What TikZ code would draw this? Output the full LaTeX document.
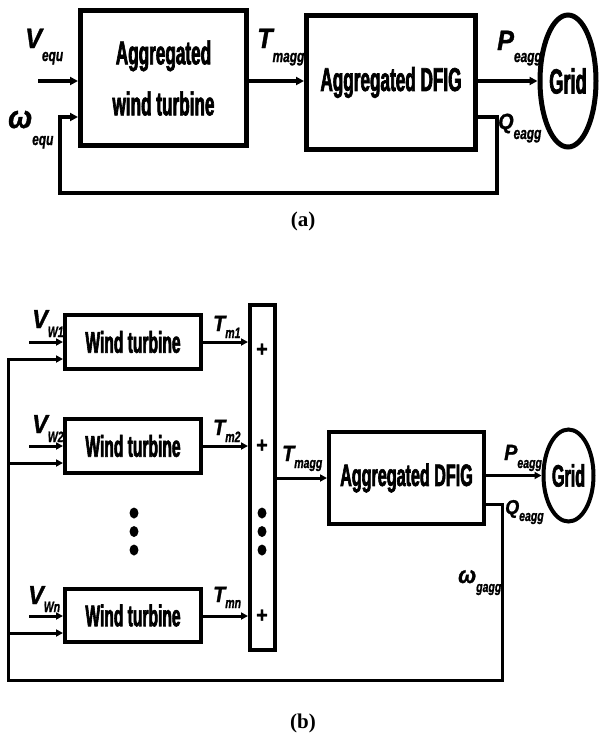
\documentclass[tikz,border=0pt]{standalone}
\usepackage{fontspec}
\usetikzlibrary{arrows.meta,shapes.geometric}
\newfontfamily\bxf[FakeStretch=0.52,FakeBold=2]{Liberation Sans}
\newfontfamily\lfm[FakeStretch=0.9,FakeBold=1.2]{Liberation Sans}
\newfontfamily\lfs[FakeStretch=0.7,FakeBold=1]{Liberation Sans}
\newfontfamily\capf{Liberation Serif}
\newcommand\fs[1]{\fontsize{#1}{#1}\selectfont}
\newcommand\sig[5]{{\lfm\bfseries\itshape\fs{#1}#2}\raisebox{-#4pt}{\lfs\bfseries\itshape\fs{#3}#5}}
\begin{document}
\begin{tikzpicture}[x=1pt,y=-1pt,
  blk/.style={draw, line width=5pt, inner sep=0pt},
  blkb/.style={draw, line width=4pt, inner sep=0pt},
  arr/.style={line width=3.6pt, -{Triangle[length=8pt,width=8pt]}},
  arrb/.style={line width=3pt, -{Triangle[length=7pt,width=7pt]}},
  lbl/.style={anchor=base west, inner sep=0pt},
  plus/.style={font=\lfm\bfseries\fs{22}, inner sep=0pt},
  capt/.style={font=\capf\bfseries\fs{21}, inner sep=0pt}]
\useasboundingbox (0,0) rectangle (599,740);
% ---------------- (a)
\node[blk, minimum width=166pt, minimum height=135pt, align=center,
  font=\bxf\bfseries\fontsize{33}{51}\selectfont] (awt) at (163.5,78) {Aggregated\\wind turbine};
\node[blk, minimum width=169pt, minimum height=134pt,
  font=\bxf\bfseries\fs{33}] (adfa) at (391,82.5) {Aggregated DFIG};
\node[blk, ellipse, minimum width=56pt, minimum height=132pt,
  font=\bxf\bfseries\fs{35}] (grida) at (568,81) {Grid};
\coordinate (va) at (38,81);
\coordinate (ta) at (250,81);
\coordinate (qa) at (497,117);
\coordinate (fa) at (60,193);
\draw[arr] (va) -- (va -| awt.west);
\draw[arr] (ta -| awt.east) -- (ta -| adfa.west);
\draw[arr] (adfa.east |- grida.west) -- (grida.west);
\draw[arr] (qa -| adfa.east) -- (qa) -- (qa |- fa) -- (fa) -- (fa |- qa) -- (qa -| awt.west);
\node[lbl] (lva) at (25,48) {\sig{28}{V}{17}{13}{equ}};
\node[lbl] (lwa) at (8,128) {\sig{32}{ω}{17}{17}{equ}};
\node[lbl] (lta) at (257,48) {\sig{28}{T}{17}{14}{magg}};
\node[lbl] (lpa) at (497,50) {\sig{28}{P}{17}{12}{eagg}};
\node[lbl] (lqa) at (498,129) {\sig{22}{Q}{17}{10}{eagg}};
\node[capt] (capa) at (303,221) {(a)};
% ---------------- (b)
\node[blkb, minimum width=136pt, minimum height=54pt, font=\bxf\bfseries\fs{30}] (wt1) at (133,342) {Wind turbine};
\node[blkb, minimum width=136pt, minimum height=54pt, font=\bxf\bfseries\fs{30}] (wt2) at (133,446) {Wind turbine};
\node[blkb, minimum width=136pt, minimum height=53.5pt, font=\bxf\bfseries\fs{30}] (wtn) at (133,615.5) {Wind turbine};
\node[blkb, minimum width=25pt, minimum height=345pt] (bar) at (262.5,477.5) {};
\node[plus] (p1) at (262,350) {+};
\node[plus] (p2) at (262,446) {+};
\node[plus] (pn) at (262,616) {+};
\foreach \yy in {513,531.5,550} {
  \fill (134,\yy) circle[x radius=4.5, y radius=5.5];
  \fill (262,\yy) circle[x radius=4.5, y radius=5.5];
}
\node[blkb, minimum width=155pt, minimum height=92pt, font=\bxf\bfseries\fs{31}] (adfb) at (406.5,478) {Aggregated DFIG};
\node[blkb, ellipse, minimum width=50pt, minimum height=92pt, font=\bxf\bfseries\fs{31}] (gridb) at (568.5,475.5) {Grid};
\coordinate (v1) at (29,342);
\coordinate (v2) at (29,446);
\coordinate (vn) at (29,616);
\coordinate (f1) at (8,359);
\coordinate (f2) at (8,463);
\coordinate (fn) at (8,633);
\coordinate (qb) at (502,504);
\coordinate (fb) at (8,680);
\draw[arrb] (v1) -- (v1 -| wt1.west);
\draw[arrb] (v2) -- (v2 -| wt2.west);
\draw[arrb] (vn) -- (vn -| wtn.west);
\draw[arrb] (wt1.east) -- (wt1.east -| bar.west);
\draw[arrb] (wt2.east) -- (wt2.east -| bar.west);
\draw[arrb] (wtn.east |- vn) -- (vn -| bar.west);
\draw[arrb] (bar.east |- adfb.west) -- (adfb.west);
\draw[arrb] (adfb.east |- gridb.west) -- (gridb.west);
\draw[arrb] (qb -| adfb.east) -- (qb) -- (qb |- fb) -- (fb) -- (f1) -- (f1 -| wt1.west);
\draw[arrb] (f2) -- (f2 -| wt2.west);
\draw[arrb] (fn) -- (fn -| wtn.west);
\node[lbl] (lv1) at (32,328) {\sig{26}{V}{15}{9}{W1}};
\node[lbl] (lv2) at (32,433) {\sig{26}{V}{15}{9}{W2}};
\node[lbl] (lvn) at (28,604) {\sig{26}{V}{15}{8}{Wn}};
\node[lbl] (lt1) at (213,331) {\sig{22}{T}{15}{7}{m1}};
\node[lbl] (lt2) at (213,435) {\sig{22}{T}{15}{7}{m2}};
\node[lbl] (ltn) at (213,602) {\sig{22}{T}{15}{6}{mn}};
\node[lbl] (ltb) at (282,461) {\sig{22}{T}{15}{7}{magg}};
\node[lbl] (lpb) at (504,460) {\sig{22}{P}{15}{8}{eagg}};
\node[lbl] (lqb) at (505,514) {\sig{20}{Q}{15}{7}{eagg}};
\node[lbl] (lwb) at (458,583) {\sig{24}{ω}{15}{9}{gagg}};
\node[capt] (capb) at (303,723) {(b)};
\end{tikzpicture}
\end{document}
